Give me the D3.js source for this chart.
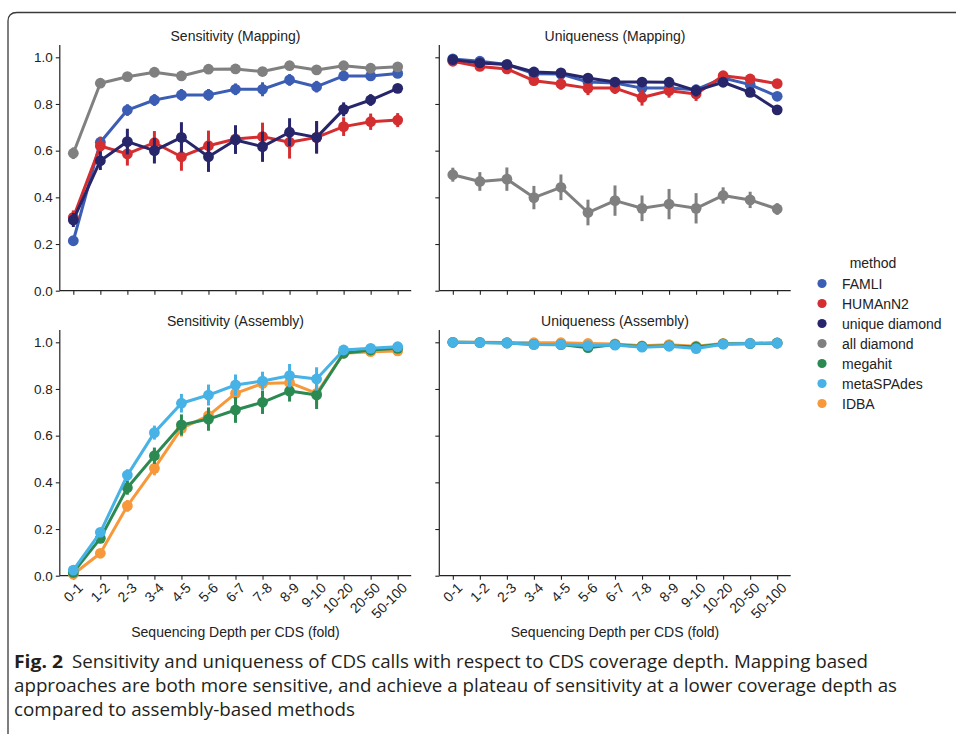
<!DOCTYPE html>
<html><head><meta charset="utf-8">
<script src="https://cdn.jsdelivr.net/npm/d3@7"></script>
<style>body{margin:0;background:#fff}svg{display:block}</style>
</head><body><svg id="c" width="956" height="734"></svg>
<script>
const categories = ["0-1","1-2","2-3","3-4","4-5","5-6","6-7","7-8","8-9","9-10","10-20","20-50","50-100"];
const yTicks = [0.0,0.2,0.4,0.6,0.8,1.0];
const methods = ["FAMLI","HUMAnN2","unique diamond","all diamond","megahit","metaSPAdes","IDBA"];
const colors = ["#3b5eb4","#d52e31","#27266b","#808080","#2b8a52","#46b2e5","#f7993b"];

// Sensitivity (Mapping)
const sensMapFAMLI   = [0.214,0.636,0.774,0.817,0.839,0.839,0.863,0.863,0.903,0.874,0.920,0.920,0.931];
const sensMapFAMLIe  = [0.02,0.02,0.025,0.025,0.025,0.025,0.025,0.03,0.025,0.025,0.012,0.012,0.012];
const sensMapHUM     = [0.314,0.620,0.586,0.634,0.574,0.621,0.650,0.660,0.636,0.657,0.703,0.724,0.731];
const sensMapHUMe    = [0.03,0.04,0.05,0.05,0.06,0.065,0.06,0.06,0.07,0.065,0.04,0.035,0.03];
const sensMapUD      = [0.303,0.557,0.639,0.600,0.657,0.574,0.646,0.617,0.679,0.657,0.777,0.817,0.867];
const sensMapUDe     = [0.03,0.04,0.055,0.055,0.065,0.065,0.06,0.065,0.06,0.07,0.03,0.025,0.012];
const sensMapAD      = [0.589,0.889,0.917,0.936,0.920,0.949,0.950,0.939,0.964,0.946,0.964,0.953,0.959];
const sensMapADe     = [0.025,0.01,0.015,0.01,0.015,0.01,0.01,0.015,0.01,0.012,0.008,0.008,0.008];

// Uniqueness (Mapping)
const uniqMapFAMLI   = [0.993,0.983,0.969,0.930,0.928,0.894,0.890,0.868,0.868,0.861,0.911,0.883,0.833];
const uniqMapFAMLIe  = [0.01,0.01,0.01,0.015,0.015,0.02,0.02,0.02,0.02,0.02,0.01,0.01,0.01];
const uniqMapHUM     = [0.983,0.961,0.950,0.900,0.886,0.868,0.868,0.828,0.857,0.843,0.921,0.907,0.887];
const uniqMapHUMe    = [0.008,0.01,0.012,0.02,0.025,0.03,0.025,0.035,0.03,0.03,0.012,0.012,0.01];
const uniqMapUD      = [0.990,0.976,0.969,0.937,0.933,0.911,0.894,0.894,0.893,0.857,0.893,0.850,0.775];
const uniqMapUDe     = [0.008,0.01,0.01,0.015,0.018,0.02,0.02,0.02,0.02,0.025,0.01,0.01,0.01];
const uniqMapAD      = [0.497,0.468,0.478,0.399,0.443,0.335,0.386,0.353,0.371,0.353,0.408,0.389,0.350];
const uniqMapADe     = [0.03,0.04,0.05,0.05,0.055,0.055,0.065,0.055,0.065,0.065,0.035,0.035,0.025];

// Sensitivity (Assembly)
const sensAsmMega    = [0.014,0.160,0.377,0.514,0.646,0.671,0.710,0.743,0.791,0.774,0.953,0.967,0.974];
const sensAsmMegae   = [0.005,0.015,0.03,0.035,0.045,0.05,0.055,0.05,0.045,0.06,0.01,0.008,0.006];
const sensAsmSPA     = [0.024,0.186,0.431,0.613,0.739,0.774,0.817,0.834,0.857,0.843,0.967,0.974,0.981];
const sensAsmSPAe    = [0.008,0.015,0.025,0.03,0.04,0.045,0.045,0.04,0.05,0.05,0.008,0.006,0.005];
const sensAsmIDBA    = [0.006,0.096,0.299,0.460,0.631,0.686,0.781,0.824,0.827,0.781,0.953,0.960,0.963];
const sensAsmIDBAe   = [0.004,0.01,0.025,0.03,0.035,0.03,0.03,0.02,0.04,0.05,0.008,0.006,0.005];

// Uniqueness (Assembly)
const uniqAsmMega    = [1.000,0.999,0.997,0.991,0.990,0.977,0.990,0.982,0.985,0.980,0.993,0.994,0.997];
const uniqAsmMegae   = [0.001,0.001,0.002,0.003,0.003,0.008,0.004,0.005,0.004,0.006,0.002,0.002,0.001];
const uniqAsmSPA     = [1.000,0.999,0.997,0.991,0.991,0.986,0.988,0.979,0.983,0.973,0.992,0.995,0.996];
const uniqAsmSPAe    = [0.001,0.001,0.002,0.003,0.003,0.008,0.004,0.005,0.004,0.01,0.002,0.002,0.001];
const uniqAsmIDBA    = [1.000,1.000,0.999,0.998,0.998,0.995,0.993,0.985,0.990,0.983,0.995,0.996,0.997];
const uniqAsmIDBAe   = [0.001,0.001,0.001,0.002,0.002,0.003,0.003,0.004,0.003,0.004,0.002,0.002,0.001];

const panels = [
  {title:"Sensitivity (Mapping)", x0:59.8, x1:411.2, yb:290.7, y1:57.3, yLabels:true, xLabels:false,
   series:[[0,sensMapFAMLI,sensMapFAMLIe],[1,sensMapHUM,sensMapHUMe],[2,sensMapUD,sensMapUDe],[3,sensMapAD,sensMapADe]]},
  {title:"Uniqueness (Mapping)", x0:439.3, x1:790.7, yb:290.7, y1:57.3, yLabels:false, xLabels:false,
   series:[[0,uniqMapFAMLI,uniqMapFAMLIe],[1,uniqMapHUM,uniqMapHUMe],[2,uniqMapUD,uniqMapUDe],[3,uniqMapAD,uniqMapADe]]},
  {title:"Sensitivity (Assembly)", x0:59.8, x1:411.2, yb:575.7, y1:342.3, yLabels:true, xLabels:true,
   series:[[6,sensAsmIDBA,sensAsmIDBAe],[4,sensAsmMega,sensAsmMegae],[5,sensAsmSPA,sensAsmSPAe]]},
  {title:"Uniqueness (Assembly)", x0:439.3, x1:790.7, yb:575.7, y1:342.3, yLabels:false, xLabels:true,
   series:[[6,uniqAsmIDBA,uniqAsmIDBAe],[4,uniqAsmMega,uniqAsmMegae],[5,uniqAsmSPA,uniqAsmSPAe]]}
];

const svg = d3.select("#c");
const FONT = "'Liberation Sans', Arial, Helvetica, sans-serif";

// frame
svg.append("path")
  .attr("d","M8,734 L8,21 Q8,12.5 17,12.5 L960,12.5")
  .attr("fill","none").attr("stroke","#3a3a3a").attr("stroke-width",1.3);

panels.forEach(p => {
  const x = d3.scalePoint().domain(categories).range([p.x0,p.x1]).padding(0.5);
  const y = d3.scaleLinear().domain([0,1]).range([p.yb,p.y1]);
  const top = y(1.053);
  const g = svg.append("g");

  const ya = g.append("g").attr("transform",`translate(${p.x0},0)`)
    .call(d3.axisLeft(y).tickValues(yTicks).tickSize(4).tickSizeOuter(0)
      .tickFormat(p.yLabels ? d3.format(".1f") : ""));
  ya.select(".domain").attr("d",`M0,${top}V${p.yb}`);
  const xa = g.append("g").attr("transform",`translate(0,${p.yb})`)
    .call(d3.axisBottom(x).tickSize(4).tickSizeOuter(0)
      .tickFormat(p.xLabels ? (d=>d) : ""));
  xa.select(".domain").attr("d",`M${p.x0},0H${p.x1}`);
  [ya,xa].forEach(a=>{
    a.selectAll(".domain").attr("stroke","#222").attr("stroke-width",1.2);
    a.selectAll(".tick line").attr("stroke","#222").attr("stroke-width",1.1);
    a.selectAll("text").attr("font-family",FONT).attr("font-size",13.5).attr("fill","#222");
  });
  ya.selectAll("text").attr("x",-7);
  if (p.xLabels) {
    xa.selectAll(".tick text").attr("text-anchor","end").attr("font-size",14)
      .attr("transform","translate(3,6) rotate(-45)").attr("dy","0.7em").attr("y",0).attr("x",0);
    g.append("text").attr("x",(p.x0+p.x1)/2).attr("y",637)
      .attr("text-anchor","middle").attr("font-family",FONT).attr("font-size",14).attr("fill","#222")
      .text("Sequencing Depth per CDS (fold)");
  }
  g.append("text").attr("x",(p.x0+p.x1)/2).attr("y",p.y1-16)
    .attr("text-anchor","middle").attr("font-family",FONT).attr("font-size",14).attr("fill","#222")
    .text(p.title);

  p.series.forEach(([mi,vals,errs]) => {
    const col = colors[mi];
    const sg = g.append("g");
    const pts = vals.map((v,i)=>({c:categories[i],v,e:errs[i]}));
    sg.selectAll("line.err").data(pts).join("line").attr("class","err")
      .attr("x1",d=>x(d.c)).attr("x2",d=>x(d.c))
      .attr("y1",d=>y(Math.min(d.v+d.e,1.05))).attr("y2",d=>y(Math.max(d.v-d.e,0)))
      .attr("stroke",col).attr("stroke-width",3);
    sg.append("path").datum(pts)
      .attr("d",d3.line().x(d=>x(d.c)).y(d=>y(d.v)))
      .attr("fill","none").attr("stroke",col).attr("stroke-width",3).attr("stroke-linejoin","round");
    sg.selectAll("circle").data(pts).join("circle")
      .attr("cx",d=>x(d.c)).attr("cy",d=>y(d.v)).attr("r",5.4).attr("fill",col);
  });
});

// legend
const lg = svg.append("g");
lg.append("text").attr("x",873).attr("y",268).attr("text-anchor","middle")
  .attr("font-family",FONT).attr("font-size",14).attr("fill","#222").text("method");
methods.forEach((m,i)=>{
  const cy = 283.5 + i*20;
  lg.append("circle").attr("cx",822).attr("cy",cy).attr("r",4.6).attr("fill",colors[i]);
  lg.append("text").attr("x",842).attr("y",cy+5).attr("font-family",FONT).attr("font-size",14)
    .attr("fill","#222").text(m);
});

// caption
const CF = "'Liberation Sans Narrow', 'Open Sans', 'Noto Sans', sans-serif";
const cap = svg.append("g").attr("fill","#231f20").attr("font-family",CF).attr("font-size",17.5);
cap.append("text").attr("x",14).attr("y",668).attr("font-weight","bold")
  .attr("textLength",49).attr("lengthAdjust","spacingAndGlyphs").text("Fig. 2");
cap.append("text").attr("x",72).attr("y",668).attr("textLength",796).attr("lengthAdjust","spacingAndGlyphs")
  .text("Sensitivity and uniqueness of CDS calls with respect to CDS coverage depth. Mapping based");
cap.append("text").attr("x",14).attr("y",692).attr("textLength",883).attr("lengthAdjust","spacingAndGlyphs")
  .text("approaches are both more sensitive, and achieve a plateau of sensitivity at a lower coverage depth as");
cap.append("text").attr("x",14).attr("y",716).attr("textLength",341).attr("lengthAdjust","spacingAndGlyphs")
  .text("compared to assembly-based methods");
</script></body></html>
